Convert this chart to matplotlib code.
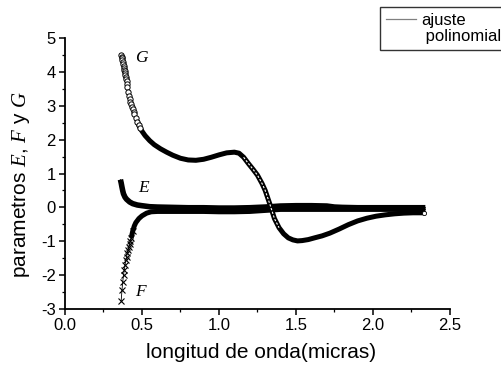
import numpy as np
import matplotlib
matplotlib.use("Agg")
import matplotlib.pyplot as plt
from matplotlib.lines import Line2D
from matplotlib.ticker import MultipleLocator

plt.rcParams['font.family'] = ['Liberation Sans', 'DejaVu Sans']
plt.rcParams['mathtext.fontset'] = 'custom'
plt.rcParams['mathtext.it'] = 'Liberation Serif:italic'
plt.rcParams['mathtext.rm'] = 'Liberation Sans'

# ---- data ----
g_x = [0.365, 0.3675, 0.37, 0.3725, 0.375, 0.3775, 0.38, 0.3825, 0.385, 0.3875, 0.39,
       0.3925, 0.395, 0.3975, 0.40, 0.4025, 0.405, 0.41, 0.415, 0.42, 0.425, 0.43, 0.435,
       0.44, 0.445, 0.45, 0.46, 0.47, 0.48, 0.49, 0.50, 0.52, 0.55, 0.58, 0.62, 0.66, 0.70,
       0.75, 0.80, 0.85, 0.90, 0.95, 1.00, 1.05, 1.10, 1.13, 1.16, 1.19, 1.22, 1.25, 1.28,
       1.30, 1.33, 1.36, 1.39, 1.42, 1.45, 1.48, 1.51, 1.54, 1.58, 1.62, 1.67, 1.72, 1.78,
       1.84, 1.90, 1.96, 2.02, 2.08, 2.14, 2.20, 2.26, 2.33]
g_y = [4.50, 4.45, 4.40, 4.34, 4.28, 4.22, 4.17, 4.12, 4.07, 4.03, 3.98,
       3.92, 3.86, 3.79, 3.72, 3.64, 3.56, 3.40, 3.30, 3.20, 3.12, 3.05, 2.97,
       2.90, 2.83, 2.77, 2.65, 2.53, 2.42, 2.33, 2.25, 2.12, 1.97, 1.85, 1.73, 1.63, 1.54,
       1.45, 1.40, 1.39, 1.42, 1.48, 1.55, 1.61, 1.63, 1.60, 1.48, 1.30, 1.13, 0.95, 0.70,
       0.50, 0.10, -0.33, -0.60, -0.78, -0.90, -0.96, -0.99, -0.98, -0.95, -0.90, -0.84,
       -0.76, -0.64, -0.51, -0.40, -0.32, -0.26, -0.22, -0.19, -0.17, -0.16, -0.16]

e_x = [0.36, 0.365, 0.37, 0.375, 0.38, 0.39, 0.40, 0.42, 0.44, 0.47, 0.50, 0.55, 0.60,
       0.70, 0.80, 0.90, 1.00, 1.10, 1.20, 1.30, 1.40, 1.50, 1.60, 1.70, 1.75, 1.80, 1.90,
       2.00, 2.10, 2.20, 2.34]
e_y = [0.82, 0.72, 0.60, 0.49, 0.40, 0.30, 0.24, 0.16, 0.11, 0.07, 0.05, 0.02, 0.01,
       0.00, -0.01, -0.01, -0.02, -0.02, -0.01, 0.01, 0.04, 0.05, 0.05, 0.04, 0.01, 0.00,
       -0.01, -0.01, -0.01, -0.01, -0.01]

f_x = [0.365, 0.37, 0.375, 0.38, 0.385, 0.39, 0.395, 0.40, 0.405, 0.41, 0.415, 0.42, 0.425,
       0.43, 0.44, 0.45, 0.46, 0.48, 0.50, 0.53, 0.56, 0.60, 0.70, 0.80, 0.90, 1.00, 1.10,
       1.20, 1.30, 1.40, 1.60, 1.80, 2.00, 2.20, 2.34]
f_y = [-2.75, -2.45, -2.20, -2.00, -1.85, -1.70, -1.56, -1.45, -1.35, -1.25, -1.16, -1.08,
       -0.99, -0.90, -0.70, -0.55, -0.45, -0.33, -0.25, -0.17, -0.13, -0.12, -0.12, -0.12,
       -0.12, -0.13, -0.13, -0.12, -0.09, -0.06, -0.06, -0.06, -0.06, -0.06, -0.06]

x_ticks = [0.0, 0.5, 1.0, 1.5, 2.0, 2.5]
y_ticks = [-3, -2, -1, 0, 1, 2, 3, 4, 5]
curve_labels = ["G", "E", "F"]
legend_labels = ["ajuste", " polinomial"]

# ---- figure ----
fig = plt.figure(figsize=(5.01, 3.68), dpi=100)
ax = fig.add_axes([0.1297, 0.1603, 0.7685, 0.7364])

gx, gy = np.array(g_x), np.array(g_y)
ex, ey = np.array(e_x), np.array(e_y)
fx, fy = np.array(f_x), np.array(f_y)

# polynomial fits (thin lines through the data)
for xx, yy in ((gx, gy), (ex, ey), (fx, fy)):
    ax.plot(xx, yy, color='black', lw=0.6, zorder=2)

# G : open circles at start, dense (solid) afterwards
k_line = np.searchsorted(gx, 0.47)
k_mark = np.searchsorted(gx, 0.50)
ax.plot(gx[k_line:], gy[k_line:], color='black', lw=3.6, solid_capstyle='round', zorder=3)
ax.plot(gx[:k_mark], gy[:k_mark], 'o', ms=3.8, mfc='white', mec='black', mew=0.7, zorder=4)
s1, s2 = np.searchsorted(gx, 1.15), np.searchsorted(gx, 1.40)
ax.plot(gx[s1:s2], gy[s1:s2], color='white', lw=0.8, ls=(0, (2, 1.5)), zorder=4)
ax.plot(gx[-1:], gy[-1:], 'o', ms=3, mfc='white', mec='black', mew=0.6, zorder=5)

# E : solid dense band
ax.plot(ex, ey, color='black', lw=4.0, solid_capstyle='butt', zorder=3)

# F : crosses at start, dense afterwards
k_fl = np.searchsorted(fx, 0.43)
k_fm = np.searchsorted(fx, 0.445)
ax.plot(fx[k_fl:], fy[k_fl:], color='black', lw=3.6, solid_capstyle='butt', zorder=3)
ax.plot(fx[:k_fm], fy[:k_fm], 'x', ms=4.0, mec='black', mew=0.8, zorder=4)

# curve labels
lab_font = dict(family='Liberation Serif', style='italic', fontsize=12.5, ha='center', va='center')
ax.text(0.497, 4.40, curve_labels[0], **lab_font)
ax.text(0.513, 0.57, curve_labels[1], **lab_font)
ax.text(0.487, -2.50, curve_labels[2], **lab_font)

# axes styling
ax.set_xlim(0.0, 2.5)
ax.set_ylim(-3, 5)
ax.set_xticks(x_ticks)
ax.set_xticklabels([f"{v:.1f}" for v in x_ticks])
ax.set_yticks(y_ticks)
ax.set_yticklabels([f"{v:d}" for v in y_ticks])
ax.xaxis.set_minor_locator(MultipleLocator(0.25))
ax.yaxis.set_minor_locator(MultipleLocator(0.5))
for s in ('top', 'right'):
    ax.spines[s].set_visible(False)
for s in ('left', 'bottom'):
    ax.spines[s].set_linewidth(1.3)
ax.tick_params(which='major', direction='out', length=4.5, width=1.1, labelsize=12, pad=2)
ax.tick_params(which='minor', direction='out', length=2.3, width=0.9)

ax.set_xlabel("longitud de onda(micras)", fontsize=15)
ax.set_ylabel(r"parametros $E$, $F$ y $G$", fontsize=15)
ax.xaxis.set_label_coords(0.508, -0.125)
ax.yaxis.set_label_coords(-0.085, 0.458)

handles = [Line2D([], [], color='gray', lw=0.9),
           Line2D([], [], color='none', lw=0)]
fig.legend(handles=handles, labels=legend_labels, loc='upper left',
           bbox_to_anchor=(380 / 501, 1 - 7 / 368), frameon=True, fancybox=False,
           edgecolor='black', fontsize=12, handlelength=1.8, handletextpad=0.3,
           borderpad=0.35, labelspacing=0.1, borderaxespad=0)

fig.savefig("out.png", dpi=100)
